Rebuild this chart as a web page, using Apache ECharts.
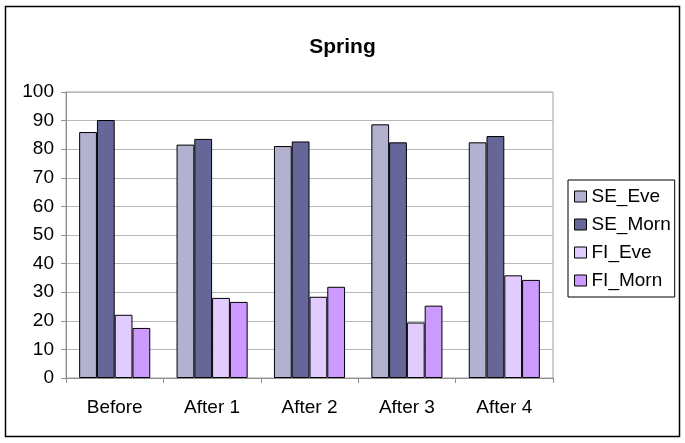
<!DOCTYPE html>
<html>
<head>
<meta charset="utf-8">
<script src="https://cdn.jsdelivr.net/npm/echarts@6/dist/echarts.min.js"></script>
<style>html,body{margin:0;padding:0;background:#fff}#c{width:685px;height:443px}</style>
</head>
<body>
<div id="c"></div>
<script>
var categories = ['Before', 'After 1', 'After 2', 'After 3', 'After 4'];
var seEve  = [86.0, 81.6, 81.1, 88.7, 82.4];
var seMorn = [90.2, 83.6, 82.7, 82.4, 84.6];
var fiEve  = [22.1, 28.0, 28.4, 19.4, 35.9];
var fiMorn = [17.5, 26.6, 31.9, 25.3, 34.3];
var seriesNames = ['SE_Eve', 'SE_Morn', 'FI_Eve', 'FI_Morn'];
var seriesColors = ['#b2b2d0', '#666699', '#e2ccff', '#cc99ff'];
var seriesData = [seEve, seMorn, fiEve, fiMorn];

var chart = echarts.init(document.getElementById('c'));
var font = 'Liberation Sans, Arial, sans-serif';
chart.setOption({
  animation: false,
  textStyle: { fontFamily: font },
  title: {
    text: 'Spring', left: 'center', top: 32,
    textStyle: { fontSize: 21, fontWeight: 'bold', color: '#000', fontFamily: font }
  },
  graphic: [{
    type: 'rect', shape: { x: 5.5, y: 6.5, width: 674, height: 430 },
    style: { fill: 'none', stroke: '#000', lineWidth: 1.5 }, silent: true, z: -1
  }],
  legend: {
    orient: 'vertical', left: 568, top: 180,
    data: seriesNames,
    icon: 'rect', itemWidth: 12, itemHeight: 11, itemGap: 9,
    padding: [7, 4, 7, 6],
    borderColor: '#000', borderWidth: 1,
    textStyle: { fontSize: 19, color: '#000', fontFamily: font, lineHeight: 19 },
    itemStyle: { borderColor: '#000', borderWidth: 1 }
  },
  grid: {
    left: 66, right: 132, top: 92, bottom: 65,
    show: true, borderColor: '#a0a0a0', borderWidth: 1
  },
  xAxis: {
    type: 'category', data: categories,
    axisLine: { lineStyle: { color: '#909090' } },
    axisTick: { show: true, length: 5, lineStyle: { color: '#909090' } },
    axisLabel: { fontSize: 19, color: '#000', margin: 20, fontFamily: font }
  },
  yAxis: {
    type: 'value', min: 0, max: 100, interval: 10,
    axisLine: { show: true, lineStyle: { color: '#909090' } },
    axisTick: { show: true, length: 5, lineStyle: { color: '#909090' } },
    axisLabel: { fontSize: 19, color: '#000', margin: 12, fontFamily: font },
    splitLine: { lineStyle: { color: '#b8b8b8' } }
  },
  series: seriesNames.map(function (n, i) {
    return {
      name: n, type: 'bar', data: seriesData[i],
      barGap: '0%', barCategoryGap: '27%',
      itemStyle: { color: seriesColors[i], borderColor: '#000', borderWidth: 1 }
    };
  })
});
</script>
</body>
</html>
